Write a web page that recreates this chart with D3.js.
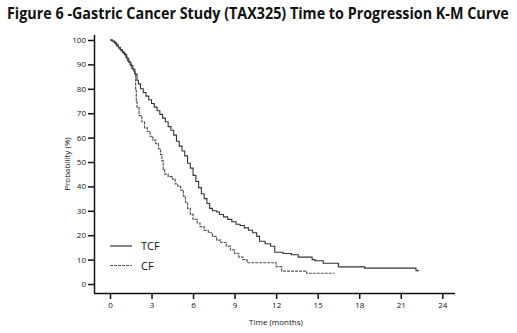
<!DOCTYPE html>
<html>
<head>
<meta charset="utf-8">
<script src="https://cdn.jsdelivr.net/npm/d3@7"></script>
<style>
  body { margin: 0; background: #fff; }
  svg { display: block; }
</style>
</head>
<body>
<script>
// K-M step data: time (months) and % progression-free
var tcfTime = [0, 0.15, 0.3, 0.45, 0.6, 0.75, 0.9, 1.05, 1.2, 1.35, 1.5, 1.65, 1.8, 1.95, 2.05, 2.2, 2.4, 2.6, 2.8, 3.0,
  3.2, 3.4, 3.6, 3.8, 4.0, 4.2, 4.4, 4.6, 4.8, 5.0, 5.2, 5.4, 5.6, 5.8, 6.0, 6.2, 6.4, 6.6, 6.8, 7.0,
  7.2, 7.4, 7.7, 7.9, 8.2, 8.5, 8.8, 9.1, 9.4, 9.7, 10.0, 10.3, 10.6, 10.8, 11.2, 11.6, 11.9, 12.5, 13.1, 13.6,
  14.6, 14.8, 15.4, 16.5, 18.4, 22.1, 22.3];
var tcfProb = [100, 99.5, 99, 98, 97, 96, 95, 94, 92.5, 91, 89.5, 88, 86, 83.5, 82, 80, 78.5, 77, 75.5, 74,
  72.5, 71, 69.5, 68, 66.5, 64.5, 63, 61, 58.5, 56.5, 54.5, 52.5, 49.5, 47.5, 44.5, 42, 39.5, 37, 35, 33,
  31, 30, 29.5, 28.5, 27.5, 26.5, 25.5, 24.5, 24, 23, 22, 21, 19.5, 17.5, 16.5, 15.5, 13, 12.5, 12, 11,
  10, 9.5, 8.5, 7, 6.5, 5.5, 5.5];

var cfTime = [0, 0.2, 0.35, 0.5, 0.65, 0.8, 0.95, 1.1, 1.25, 1.4, 1.55, 1.7, 1.8, 1.85, 1.9, 1.95, 2.1, 2.3, 2.5, 2.7,
  2.9, 3.1, 3.3, 3.5, 3.65, 3.75, 3.85, 3.95, 4.2, 4.5, 4.7, 4.9, 5.1, 5.3, 5.45, 5.6, 5.8, 6.0, 6.3, 6.5,
  6.8, 7.1, 7.4, 7.7, 8.0, 8.4, 8.7, 9.0, 9.3, 9.6, 9.9, 12.0, 12.4, 14.2, 16.2];
var cfProb = [100, 99.5, 98.5, 97.5, 96.5, 95.5, 94.5, 93, 91.5, 90, 88.5, 87, 86, 80, 75, 72.5, 69, 66.5, 64, 62.5,
  60.5, 59, 57.5, 55.5, 53, 50.5, 47, 45, 44, 43, 41, 40, 38.5, 36, 33.5, 31, 28.5, 26.5, 25, 23.5,
  22, 21, 19.5, 18, 17, 15.5, 14, 12.5, 11, 10, 8.7, 7.1, 5.3, 4.4, 4.4];

var xTicks = [0, 3, 6, 9, 12, 15, 18, 21, 24];
var yTicks = [0, 10, 20, 30, 40, 50, 60, 70, 80, 90, 100];

var width = 517, height = 333;

var svg = d3.select("body").append("svg")
  .attr("width", width)
  .attr("height", height);

var x = d3.scaleLinear().domain([0, 24]).range([110, 442.3]);
var y = d3.scaleLinear().domain([0, 100]).range([284, 40]);

var fontSans = "'Open Sans', 'DejaVu Sans', sans-serif";

// title, squeezed horizontally to fit the top line
var title = svg.append("text")
  .attr("x", 0)
  .attr("y", 0)
  .attr("font-family", fontSans)
  .attr("font-weight", "bold")
  .attr("font-size", 16)
  .attr("fill", "#111")
  .text("Figure 6 -Gastric Cancer Study (TAX325) Time to Progression K-M Curve");
var titleW = title.node().getComputedTextLength();
title.attr("transform", "translate(7,19) scale(" + (502 / titleW) + ",1)");

// axes
var xAxis = d3.axisBottom(x).tickValues(xTicks).tickSize(6).tickPadding(3).tickSizeOuter(0);
var yAxis = d3.axisLeft(y).tickValues(yTicks).tickSize(6).tickPadding(2).tickSizeOuter(0);

var gx = svg.append("g").attr("transform", "translate(0,293)").call(xAxis);
var gy = svg.append("g").attr("transform", "translate(94,0)").call(yAxis);

gx.select(".domain").attr("d", "M94,0.5H455");
gy.select(".domain").attr("d", "M0.5,35V293");

[gx, gy].forEach(function(g) {
  g.selectAll(".domain, .tick line").attr("stroke", "#111").attr("stroke-width", 1.5);
  g.selectAll(".tick text")
    .attr("font-family", fontSans)
    .attr("font-size", 8)
    .attr("fill", "#111");
});

// axis titles
svg.append("text")
  .attr("x", 276)
  .attr("y", 325)
  .attr("text-anchor", "middle")
  .attr("font-family", fontSans)
  .attr("font-size", 8)
  .attr("fill", "#111")
  .text("Time (months)");

svg.append("text")
  .attr("transform", "translate(70,164) rotate(-90)")
  .attr("text-anchor", "middle")
  .attr("font-family", fontSans)
  .attr("font-size", 8)
  .attr("fill", "#111")
  .text("Probability (%)");

// survival curves
var line = d3.line()
  .x(function(d) { return x(d[0]); })
  .y(function(d) { return y(d[1]); })
  .curve(d3.curveStepAfter);

var tcf = d3.zip(tcfTime, tcfProb);
var cf = d3.zip(cfTime, cfProb);

svg.append("path")
  .datum(cf)
  .attr("d", line)
  .attr("fill", "none")
  .attr("stroke", "#555")
  .attr("stroke-width", 1.2)
  .attr("stroke-dasharray", "3,1");

svg.append("path")
  .datum(tcf)
  .attr("d", line)
  .attr("fill", "none")
  .attr("stroke", "#333")
  .attr("stroke-width", 1.1);

// legend
var legend = [
  { name: "TCF", y: 246, dash: null, color: "#333" },
  { name: "CF", y: 265.5, dash: "3,1", color: "#555" }
];

var lg = svg.selectAll("g.legend")
  .data(legend)
  .enter()
  .append("g")
  .attr("class", "legend");

lg.append("line")
  .attr("x1", 110)
  .attr("x2", 132)
  .attr("y1", function(d) { return d.y; })
  .attr("y2", function(d) { return d.y; })
  .attr("stroke", function(d) { return d.color; })
  .attr("stroke-width", 1.2)
  .attr("stroke-dasharray", function(d) { return d.dash; });

lg.append("text")
  .attr("x", 141)
  .attr("y", function(d) { return d.y + 4; })
  .attr("font-family", fontSans)
  .attr("font-size", 11)
  .attr("fill", "#111")
  .text(function(d) { return d.name; });
</script>
</body>
</html>
